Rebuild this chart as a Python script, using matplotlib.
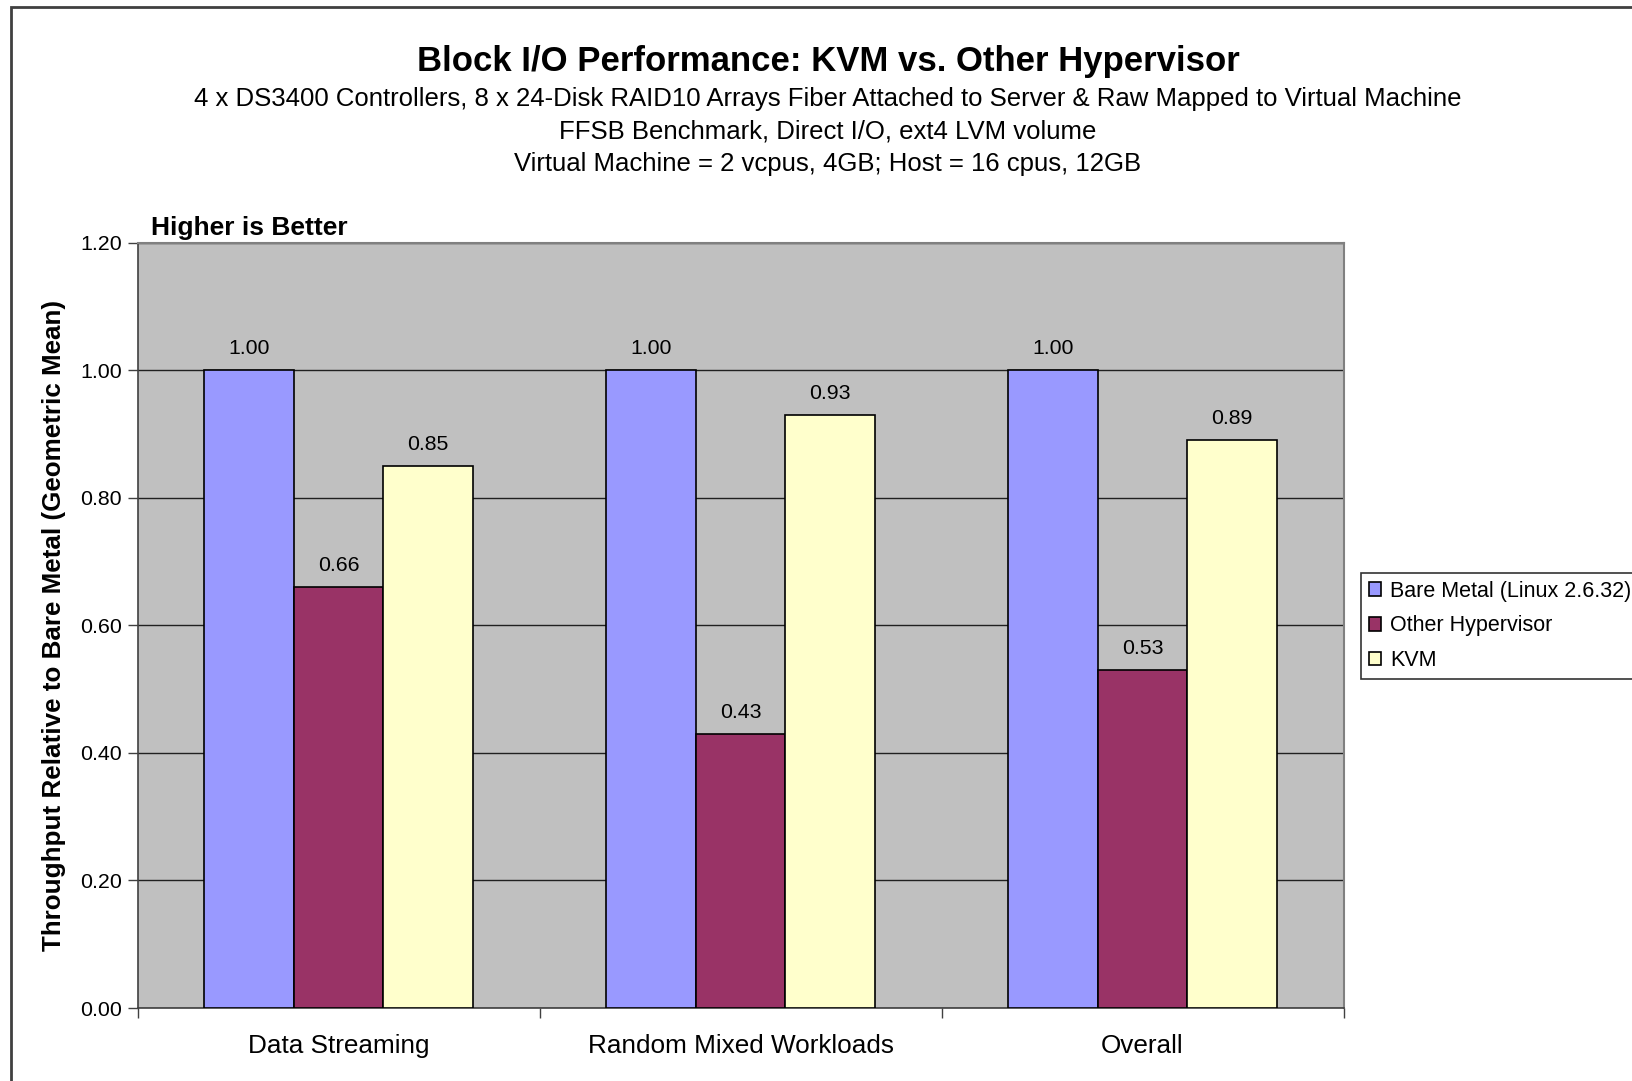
import matplotlib
matplotlib.use("Agg")
import matplotlib.pyplot as plt
import numpy as np
from matplotlib.patches import Rectangle

plt.rcParams['font.family'] = ['Liberation Sans', 'DejaVu Sans']

# data
categories = ['Data Streaming', 'Random Mixed Workloads', 'Overall']
series_names = ['Bare Metal (Linux 2.6.32)', 'Other Hypervisor', 'KVM']
bare_metal = [1.00, 1.00, 1.00]
other_hv = [0.66, 0.43, 0.53]
kvm = [0.85, 0.93, 0.89]
colors = ['#9999FF', '#993366', '#FFFFCC']
yticks = [0.0, 0.2, 0.4, 0.6, 0.8, 1.0, 1.2]

W, H = 1633, 1081
fig = plt.figure(figsize=(W / 100, H / 100), dpi=100)
fig.patch.set_facecolor('white')

# outer frame of the chart object (runs off right/bottom edge)
fig.patches.append(Rectangle((11.5 / W, -0.05), 1.2, 1 - 6.5 / H + 0.05,
                             transform=fig.transFigure, fill=False,
                             edgecolor='#404040', lw=2))

ax = fig.add_axes([137.5 / W, 1 - 1008 / H, (1343.5 - 137.5) / W, (1008 - 242.7) / H])
ax.set_facecolor('#C0C0C0')

x = np.arange(len(categories))
bw = 0.2228
for i, vals in enumerate([bare_metal, other_hv, kvm]):
    bars = ax.bar(x + (i - 1) * bw, vals, bw, color=colors[i], edgecolor='black',
                  linewidth=1.2, label=series_names[i], zorder=3)
    for b, v in zip(bars, vals):
        ax.text(b.get_x() + b.get_width() / 2, v + 0.019, f'{v:.2f}',
                ha='center', va='bottom', fontsize=15.3, color='black')

ax.set_xlim(-0.5, 2.5)
ax.set_ylim(0, 1.2)
ax.set_yticks(yticks)
ax.set_yticklabels([f'{t:.2f}' for t in yticks], fontsize=15.4)
ax.yaxis.grid(True, color='#202020', lw=1)
ax.set_axisbelow(True)
ax.tick_params(axis='y', length=7, width=1, color='#404040', pad=4)

ax.set_xticks(x)
ax.set_xticklabels(categories, fontsize=18.8)
ax.set_xticks([-0.5, 0.5, 1.5, 2.5], minor=True)
ax.tick_params(axis='x', which='major', length=0, pad=19)
ax.tick_params(axis='x', which='minor', length=7, width=1, color='#404040')

for s in ['top', 'right']:
    ax.spines[s].set_color('#808080')
    ax.spines[s].set_linewidth(1.5)
for s in ['left', 'bottom']:
    ax.spines[s].set_color('#404040')
    ax.spines[s].set_linewidth(1.2)

ax.set_ylabel('Throughput Relative to Bare Metal (Geometric Mean)',
              fontsize=18.7, fontweight='bold', labelpad=10)

ax.text(0.011, 1.004, 'Higher is Better', transform=ax.transAxes,
        fontsize=19, fontweight='bold', ha='left', va='bottom')

fig.text(828 / W, 1 - 62 / H, 'Block I/O Performance: KVM vs. Other Hypervisor',
         fontsize=25, fontweight='bold', ha='center', va='center')
sub = ['4 x DS3400 Controllers, 8 x 24-Disk RAID10 Arrays Fiber Attached to Server & Raw Mapped to Virtual Machine',
       'FFSB Benchmark, Direct I/O, ext4 LVM volume',
       'Virtual Machine = 2 vcpus, 4GB; Host = 16 cpus, 12GB']
for k, line in enumerate(sub):
    fig.text(828 / W, 1 - (99 + 32.5 * k) / H, line, fontsize=18.5, ha='center', va='center')

leg = ax.legend(loc='upper left', bbox_to_anchor=(1361 / W, 1 - 573 / H),
                bbox_transform=fig.transFigure, fontsize=15.5, frameon=True,
                fancybox=False, edgecolor='black', handlelength=0.6,
                handleheight=0.6, handletextpad=0.4, borderpad=0.35,
                labelspacing=0.64, borderaxespad=0)
leg.get_frame().set_linewidth(1.2)

fig.savefig('out.png', dpi=100, facecolor='white')
